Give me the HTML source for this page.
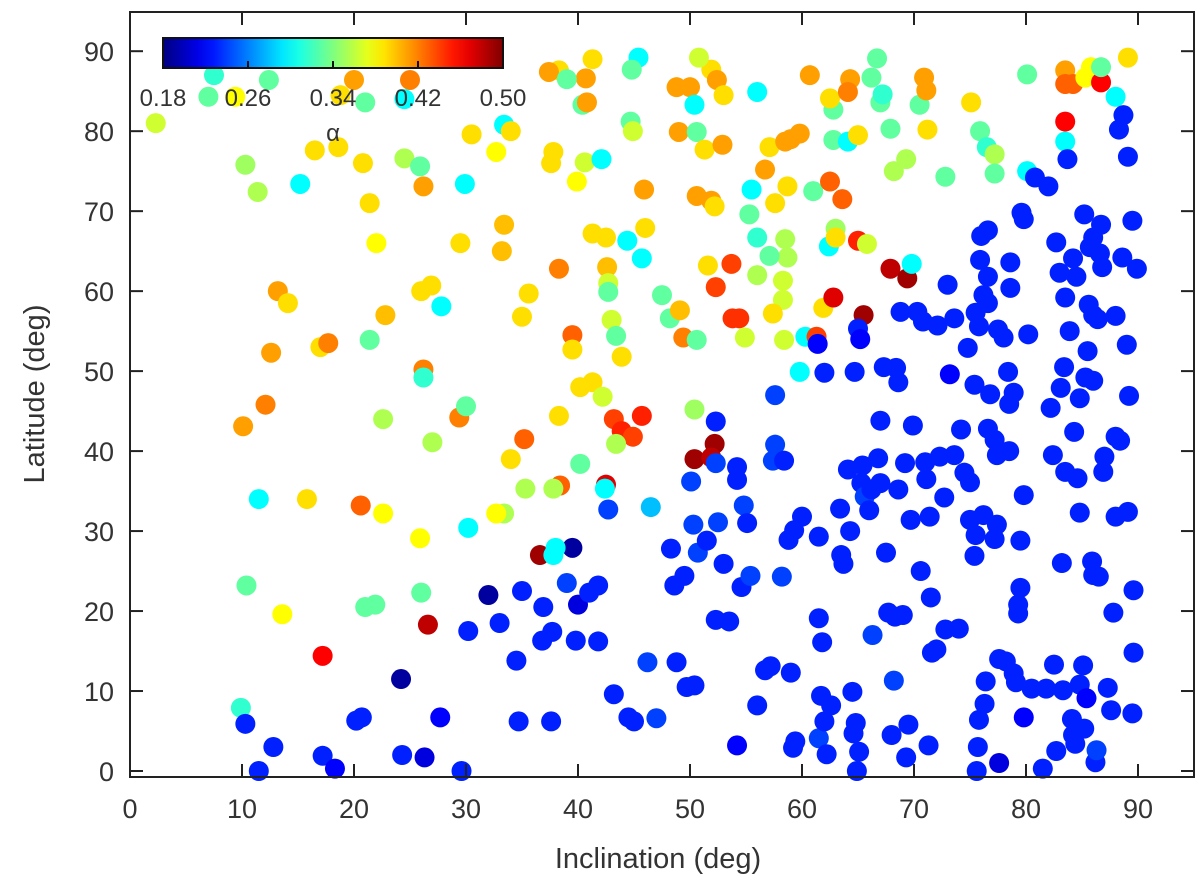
<!DOCTYPE html>
<html><head><meta charset="utf-8"><style>
html,body{margin:0;padding:0;background:#fff;}
svg{display:block;font-family:"Liberation Sans",sans-serif;}
</style></head><body>
<svg id="chart" width="1200" height="892"></svg>
<script>
// data: [inclination, latitude, alpha]
const inclination = [];
const latitude = [];
const alphaValues = [];
const xTicks = [0,10,20,30,40,50,60,70,80,90];
const yTicks = [0,10,20,30,40,50,60,70,80,90];
const cbTicks = [0.18,0.26,0.34,0.42,0.50];
const pts = [
[2.3,81,0.365],[7.5,87,0.315],[7,84.3,0.33],[9.4,84.3,0.38],[12.4,86.4,0.33],[20,86.4,0.41],[18.8,84.5,0.39],[21,83.6,0.33],[25,86.4,0.42],[24.5,84,0.30],
[10.3,75.8,0.35],[11.4,72.4,0.355],[15.2,73.4,0.30],[16.5,77.6,0.39],[18.6,78,0.39],[20.8,76,0.39],[21.4,71,0.39],[22,66,0.38],[24.5,76.6,0.355],[25.9,75.6,0.33],
[26.2,73.1,0.41],[29.9,73.4,0.30],[30.5,79.6,0.39],[32.7,77.4,0.38],[33.4,80.8,0.30],[34,80,0.39],[29.5,66,0.39],[33.2,65,0.40],[33.4,68.3,0.40],[35.6,59.7,0.39],
[35,56.8,0.39],[13.2,60,0.41],[14.1,58.5,0.39],[12.6,52.3,0.41],[22.8,57,0.40],[21.4,53.9,0.33],[17,53,0.39],[17.7,53.5,0.42],[26,60,0.39],[26.9,60.7,0.39],
[27.8,58.1,0.30],[26.2,50.2,0.42],[26.2,49.2,0.315],[12.1,45.8,0.42],[10.1,43.1,0.41],[22.6,44,0.355],[27,41.1,0.355],[29.4,44.2,0.42],[30,45.6,0.33],[34,39,0.39],
[35.2,41.5,0.43],[35.3,35.3,0.355],[33.4,32.2,0.355],[32.7,32.2,0.38],[30.2,30.4,0.30],[11.5,34,0.30],[15.8,34,0.39],[20.6,33.2,0.43],[22.6,32.2,0.38],[25.9,29.1,0.38],
[10.4,23.2,0.33],[13.6,19.6,0.38],[21,20.5,0.33],[21.9,20.8,0.33],[26,22.3,0.33],[26.6,18.3,0.48],[17.2,14.4,0.46],[9.9,7.9,0.315],
[38.3,87.6,0.39],[37.4,87.4,0.41],[41.3,89,0.39],[40.7,86.6,0.41],[39,86.5,0.33],[40.4,83.3,0.33],[40.8,83.6,0.41],[45.4,89.2,0.30],[44.8,87.7,0.33],[48.8,85.5,0.41],
[50,85.5,0.41],[50.4,83.3,0.30],[51.9,87.7,0.39],[52.4,86.4,0.41],[50.8,89.2,0.365],[53,84.5,0.39],[44.7,81.2,0.33],[44.9,80,0.365],[37.8,77.4,0.39],[37.6,76,0.39],
[39.9,73.7,0.38],[40.6,76.1,0.365],[42.1,76.5,0.30],[38.3,62.8,0.42],[41.3,67.2,0.39],[42.5,66.7,0.39],[44.4,66.3,0.30],[42.6,63,0.40],[42.7,61,0.365],[42.7,59.9,0.33],
[43,56.4,0.365],[43.4,54.4,0.33],[39.5,54.5,0.43],[39.5,52.7,0.39],[43.9,51.8,0.39],[40.2,48,0.39],[41.3,48.6,0.39],[42.2,46.8,0.365],[38.3,44.4,0.39],[43.2,44,0.44],
[43.9,42.5,0.45],[44.9,41.8,0.44],[45.7,44.4,0.45],[43.4,40.9,0.355],[40.2,38.4,0.33],[42.5,35.8,0.47],[42.4,35.3,0.30],[38.4,35.7,0.43],[37.8,35.3,0.355],[46,67.9,0.39],
[45.7,64.1,0.30],[45.9,72.7,0.41],[47.5,59.5,0.33],[48.2,56.6,0.33],[49.1,57.6,0.40],[49.4,54.2,0.42],[50.6,53.9,0.33],[50.4,45.2,0.35],[49,79.9,0.41],[50.6,79.9,0.33],
[51.3,77.7,0.39],[50.6,71.9,0.41],[51.9,71.3,0.41],[52.2,70.6,0.39],[52.9,78.3,0.41],[51.6,63.2,0.39],[52.3,60.5,0.44],[53.7,63.4,0.44],[53.8,56.6,0.445],[54.4,56.6,0.445],
[54.9,54.2,0.365],[50.4,39,0.49],[52.2,40.9,0.49],[51.9,39.2,0.48],[36.6,27,0.49],[39.5,27.9,0.19],[38,27.9,0.30],[37.8,27,0.30],
[56,84.9,0.30],[55.5,72.7,0.30],[55.3,69.6,0.33],[56,66.7,0.315],[56,62,0.355],[56.7,75.2,0.41],[57.1,78,0.39],[57.6,71,0.39],[58.7,73.1,0.39],[58.5,78.7,0.41],
[59,79,0.41],[59.8,79.7,0.41],[58.5,66.5,0.355],[58.7,64.2,0.355],[58.3,61.3,0.365],[58.3,58.9,0.365],[57.4,57.2,0.39],[58.4,53.9,0.365],[57.1,64.4,0.33],[60.7,87,0.41],
[61,72.5,0.33],[60.3,54.3,0.30],[59.8,49.9,0.30],[61.3,54.3,0.44],[61.9,57.9,0.39],[62.4,65.6,0.30],[63,67.8,0.35],[62.5,73.7,0.43],[62.8,78.9,0.33],[62.8,82.7,0.33],
[62.5,84.1,0.39],[64.3,86.5,0.41],[64.1,84.9,0.42],[64.1,78.7,0.30],[65,79.5,0.39],[63.6,71.5,0.43],[63,66.7,0.39],[65,66.3,0.45],[65.8,65.9,0.365],[62.8,59.2,0.47],
[65.5,57,0.49],[66.2,86.7,0.33],[66.7,89.1,0.33],[67,83.6,0.33],[67.2,84.6,0.315],[67.9,80.3,0.33],[68.2,75,0.355],[69.3,76.5,0.355],[67.9,62.8,0.48],[69.4,61.6,0.49],
[69.8,63.4,0.30],[70.5,83.3,0.33],[70.9,86.7,0.41],[71.1,85.1,0.41],[71.2,80.2,0.39],[72.8,74.3,0.33],[75.1,83.6,0.39],[75.9,80,0.33],[76.5,78,0.315],[77.2,77.1,0.355],
[77.2,74.7,0.33],[80.1,87.1,0.33],[80.1,75,0.30],[83.5,87.6,0.41],[84.2,85.9,0.43],[83.5,85.9,0.43],[83.5,81.2,0.46],[83.5,78.7,0.30],[83.7,76.5,0.23],[85.3,86.7,0.38],
[85.8,88,0.38],[86.7,86.1,0.46],[86.7,88,0.33],[89.1,89.2,0.39],[88,84.3,0.30],[88.7,82,0.23],[88.3,80.2,0.23],[89.1,76.8,0.23],[80.8,74.2,0.23],[82,73.1,0.23],
[79.8,69,0.23],[79.6,69.8,0.23],
[32,22,0.19],[33,18.5,0.23],[35,22.5,0.23],[34.5,13.8,0.23],[34.7,6.2,0.23],[36.8,16.3,0.23],[36.9,20.5,0.23],[37.7,17.4,0.23],[37.6,6.2,0.23],[39,23.5,0.24],
[39.8,16.3,0.23],[40,20.8,0.21],[41,22.3,0.23],[41.8,23.2,0.23],[41.8,16.2,0.23],[42.7,32.7,0.24],[43.2,9.6,0.23],[44.5,6.7,0.23],[45,6.2,0.23],[46.2,13.6,0.24],
[47,6.6,0.24],[46.5,33,0.28],[48.3,27.8,0.23],[48.6,23.2,0.23],[48.8,13.6,0.23],[49.5,24.4,0.23],[49.7,10.5,0.23],[50.4,10.7,0.23],[50.1,36.2,0.24],[50.3,30.8,0.24],
[50.7,27.3,0.24],[51.5,28.8,0.23],[52.3,38.5,0.24],[52.3,43.7,0.23],[52.5,31.1,0.24],[52.3,18.9,0.23],[53,25.9,0.23],[53.5,18.7,0.23],[54.2,38,0.23],[54.2,36.4,0.23],
[54.8,33.2,0.24],[54.6,23,0.23],[55.1,31,0.23],[55.4,24.4,0.24],[56,8.2,0.23],[54.2,3.2,0.22],[56.7,12.6,0.23],[57.2,13.1,0.23],[57.6,47,0.24],[57.6,40.8,0.24],
[57.4,38.8,0.24],[58.2,24.3,0.24],[58.4,38.8,0.23],[58.8,28.9,0.23],[59.3,30.1,0.23],[59,12.3,0.23],[59.4,3.7,0.23],[59.2,2.9,0.23],[60,31.8,0.23],[61.4,53.4,0.22],
[61.5,29.3,0.23],[61.5,19.1,0.23],[61.8,16.1,0.23],[61.7,9.4,0.23],[61.5,4.1,0.24],[62,6.2,0.23],[62.2,2.1,0.23],[62.6,8.2,0.23],[62,49.8,0.23],[63.4,32.8,0.23],
[63.5,27,0.23],[63.7,25.9,0.23],[64.1,37.7,0.23],[64.3,30,0.23],[64.5,9.9,0.23],[64.8,6,0.23],[64.6,4.7,0.23],[64.9,0,0.23],[65.1,2.4,0.23],[64.7,49.9,0.23],
[65,55.3,0.23],[65.2,54,0.22],[65.4,38.2,0.23],[65.3,36,0.23],[65.6,34.3,0.24],[66.2,35.2,0.23],[66,32.6,0.23],[66.3,17,0.24],[66.8,39.1,0.23],[67,43.8,0.23],
[67,36,0.23],[67.3,50.5,0.23],[67.5,27.3,0.23],[67.7,19.8,0.23],[68,4.5,0.23],[68.2,11.3,0.24],[68.3,19.3,0.23],[68.6,35.2,0.23],[68.4,50.4,0.23],[68.6,48.6,0.23],
[68.8,57.4,0.23],[69,19.5,0.23],[69.2,38.5,0.23],[69.5,5.8,0.23],[69.9,43.2,0.23],[69.7,31.4,0.23],[69.3,1.7,0.23],[70.3,57.4,0.23],[70.6,25,0.23],[70.8,56.2,0.23],
[71,38.6,0.23],[71.1,36.5,0.23],[71.4,31.8,0.23],[71.3,3.2,0.23],[71.5,21.7,0.23],[71.6,14.8,0.23],[72,15.2,0.23],[72.3,39.3,0.23],[72.1,55.7,0.23],[72.7,34.2,0.23],
[72.8,17.7,0.23],[73,60.8,0.23],[73.2,49.6,0.22],[73.6,39.5,0.23],[73.6,56.6,0.23],[74,17.8,0.23],[74.2,42.7,0.23],[74.5,37.3,0.23],[74.8,52.9,0.23],[75,36.1,0.23],
[75,31.4,0.23],[75.4,48.3,0.23],[75.4,26.9,0.23],[75.5,29.5,0.23],[75.5,57.3,0.23],[75.6,0,0.23],[75.7,3,0.23],[75.8,6.4,0.23],[76,66.9,0.23],[75.9,63.9,0.23],
[75.8,55.6,0.23],[76.2,59.5,0.23],[76.2,32,0.23],[76.3,8.4,0.23],[76.4,11.2,0.23],[76.6,58.5,0.23],[76.6,61.8,0.23],[76.6,67.6,0.23],[76.8,47.1,0.23],[76.6,42.8,0.23],
[77.2,41.4,0.23],[77.4,39.5,0.23],[77.5,55.2,0.23],[77.2,29,0.23],[77.4,30.8,0.23],[77.6,1,0.21],[77.6,14,0.23],[78,54.2,0.23],[78.4,49.9,0.23],[78.2,13.7,0.23],
[78.5,40,0.23],[78.6,63.6,0.23],[78.6,60.4,0.23],[78.5,45.9,0.23],[78.9,47.3,0.23],[78.9,12.2,0.23],[79.1,11.1,0.23],[79.3,19.7,0.23],[79.5,28.8,0.23],[79.3,20.8,0.23],
[79.5,22.9,0.23],[79.8,34.5,0.23],[80.2,54.6,0.23],[79.8,6.7,0.22],[80.5,10.3,0.23],[81.5,0.3,0.23],[81.8,10.3,0.23],[82.2,45.4,0.23],[82.4,39.5,0.23],[82.5,13.3,0.23],
[82.7,2.5,0.23],[82.7,66.1,0.23],[83,62.3,0.23],[83.1,47.9,0.23],[83.2,26,0.23],[83.3,10.1,0.23],[83.4,50.5,0.23],[83.5,59.2,0.23],[83.5,37.4,0.23],[83.9,55,0.23],
[84.2,64.1,0.23],[84.1,6.5,0.23],[84.2,4.5,0.23],[84.4,3.4,0.23],[84.3,42.4,0.23],[84.5,61.8,0.23],[84.6,36.6,0.23],[84.8,46.6,0.23],[84.8,32.3,0.23],[84.8,10.8,0.23],
[85.2,69.6,0.23],[85.1,13.2,0.23],[85.2,5.3,0.23],[85.3,49.2,0.23],[85.5,52.5,0.23],[85.4,9.1,0.22],[85.6,58.3,0.23],[85.7,65.5,0.23],[85.9,26.2,0.23],[86,66.7,0.23],
[86,57,0.23],[86,48.8,0.23],[86,24.5,0.23],[86.2,1.1,0.23],[86.3,2.6,0.24],[86.4,56.5,0.23],[86.5,24.3,0.23],[86.6,64.7,0.23],[86.7,68.3,0.23],[86.8,63,0.23],
[87,39.3,0.23],[86.9,37.4,0.23],[87.3,10.4,0.23],[87.8,19.8,0.23],[87.6,7.6,0.23],[88,56.9,0.23],[88,41.8,0.23],[88,31.8,0.23],[88.4,41.3,0.23],[88.6,64.2,0.23],
[89,53.3,0.23],[89.1,32.4,0.23],[89.6,22.6,0.23],[89.6,14.8,0.23],[89.5,68.8,0.23],[89.5,7.2,0.23],[89.9,62.8,0.23],[89.2,46.9,0.23],
[10.3,5.9,0.23],[11.5,0,0.23],[12.8,3,0.23],[17.2,1.9,0.23],[18.3,0.3,0.22],[20.2,6.3,0.23],[20.7,6.7,0.23],[24.2,11.5,0.19],[24.3,2,0.23],[26.3,1.7,0.21],
[27.7,6.7,0.22],[29.6,0,0.23],[30.2,17.5,0.23]
];
pts.forEach(p=>{inclination.push(p[0]);latitude.push(p[1]);alphaValues.push(p[2]);});

const NS='http://www.w3.org/2000/svg';
const svg=document.getElementById('chart');
const L=130,R=1194,T=12,B=777;
const X0=0,X1=95,Y0=-0.75,Y1=94.9;
const sx=v=>L+(v-X0)/(X1-X0)*(R-L);
const sy=v=>B-(v-Y0)/(Y1-Y0)*(B-T);
const A0=0.18,A1=0.50;
function jet(a){let t=(a-A0)/(A1-A0);t=Math.max(0,Math.min(1,t));
 const c=x=>Math.round(255*Math.max(0,Math.min(1,x)));
 return `rgb(${c(1.5-Math.abs(4*t-3))},${c(1.5-Math.abs(4*t-2))},${c(1.5-Math.abs(4*t-1))})`;}
function el(tag,attrs,parent){const e=document.createElementNS(NS,tag);for(const k in attrs)e.setAttribute(k,attrs[k]);(parent||svg).appendChild(e);return e;}

const gPts=el('g',{});


for(let i=0;i<inclination.length;i++){
 const c=el('circle',{cx:sx(inclination[i]),cy:sy(latitude[i]),r:10,fill:jet(alphaValues[i])},gPts);
 
 
}

const frame=el('rect',{x:L,y:T,width:R-L,height:B-T,fill:'none',stroke:'#222','stroke-width':2});


const gx=el('g',{});


xTicks.forEach(v=>{const x=sx(v);
 el('line',{x1:x,x2:x,y1:B,y2:B-13,stroke:'#222','stroke-width':2},gx);
 el('line',{x1:x,x2:x,y1:T,y2:T+13,stroke:'#222','stroke-width':2},gx);
 const t=el('text',{x:x,y:818,'text-anchor':'middle','font-size':27,fill:'#333'},gx);t.textContent=v;
 
 
});
const gy=el('g',{});


yTicks.forEach(v=>{const y=sy(v);
 el('line',{x1:L,x2:L+13,y1:y,y2:y,stroke:'#222','stroke-width':2},gy);
 el('line',{x1:R,x2:R-13,y1:y,y2:y,stroke:'#222','stroke-width':2},gy);
 const t=el('text',{x:114,y:y+10,'text-anchor':'end','font-size':27,fill:'#333'},gy);t.textContent=v;
 
 
});
const xt=el('text',{x:658,y:868,'text-anchor':'middle','font-size':29,fill:'#333'});xt.textContent='Inclination (deg)';


const yt=el('text',{x:0,y:0,'text-anchor':'middle','font-size':29,fill:'#333',transform:'translate(44,394) rotate(-90)'});yt.textContent='Latitude (deg)';



const cb=el('g',{});


const CL=163,CR=503,CT=38,CB=68;
const defs=el('defs',{});
const grad=el('linearGradient',{id:'jetg',x1:0,x2:1,y1:0,y2:0},defs);
for(let i=0;i<=20;i++){const a=A0+(A1-A0)*i/20;el('stop',{offset:(i/20),'stop-color':jet(a)},grad);}
el('rect',{x:CL,y:CT,width:CR-CL,height:CB-CT,fill:'url(#jetg)',stroke:'#111','stroke-width':2},cb);
const cx=a=>CL+(a-A0)/(A1-A0)*(CR-CL);
cbTicks.forEach(a=>{const x=cx(a);
 el('line',{x1:x,x2:x,y1:CB,y2:CB-7,stroke:'#111','stroke-width':2},cb);
 const t=el('text',{x:x,y:106,'text-anchor':'middle','font-size':24,fill:'#333'},cb);t.textContent=a.toFixed(2);
 
 
});
const ct=el('text',{x:333,y:141,'text-anchor':'middle','font-size':24,fill:'#333'},cb);ct.textContent='α';


</script>
</body></html>
